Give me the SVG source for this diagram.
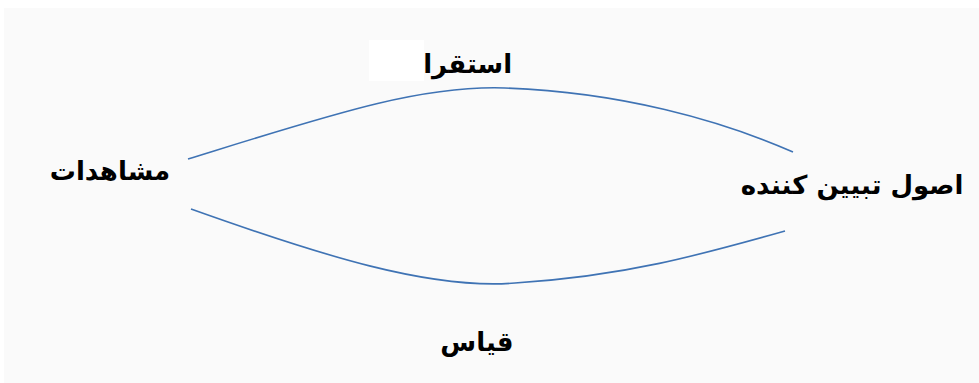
<svg xmlns="http://www.w3.org/2000/svg" width="979" height="383" viewBox="0 0 979 383">
<style>
.lbl{font-family:"DejaVu Sans","Noto Sans",sans-serif;font-weight:bold;font-size:26px;fill:#000;text-anchor:middle}
.conn{fill:none;stroke:#3f73b4;stroke-width:1.6}
</style>
<rect width="979" height="383" fill="#ffffff"/>
<rect x="4" y="8" width="975" height="375" fill="#fafafa"/>
<g id="connectors">
<path class="conn" d="M188,159 C330,115 420,85 505,88 C620,92 720,120 793,152"/>
<path class="conn" d="M191,209 C320,255 430,290 515,283 C625,276 700,255 785,231"/>
</g>
<g id="node-observations"><text class="lbl" x="110" y="180">مشاهدات</text></g>
<g id="node-principles"><text class="lbl" x="852" y="194">اصول تبیین کننده</text></g>
<g id="label-induction">
<text class="lbl" x="461" y="73">استقراء</text>
<rect x="369" y="40" width="55" height="41" fill="#ffffff"/>
</g>
<g id="label-deduction"><text class="lbl" x="477" y="351">قیاس</text></g>
</svg>
